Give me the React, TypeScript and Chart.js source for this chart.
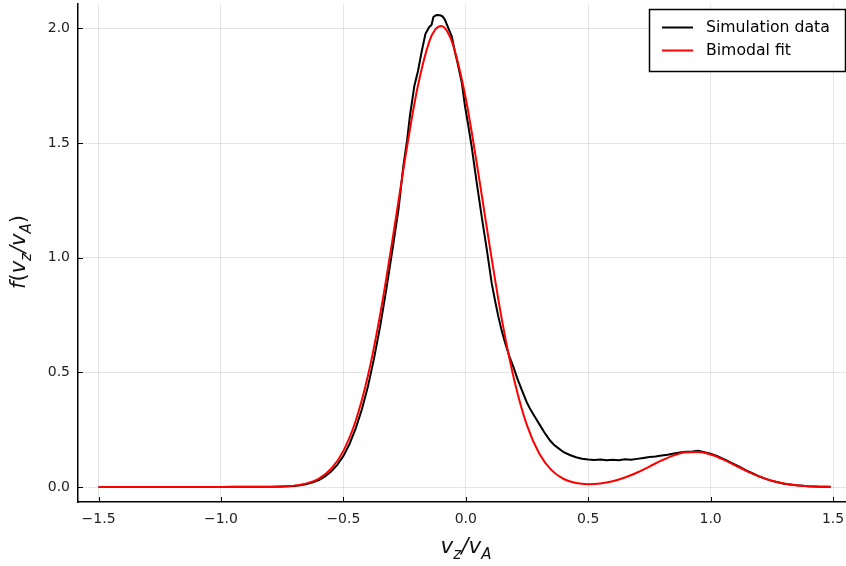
import React, { useEffect, useRef } from "react";
import { Chart, registerables } from "chart.js";
Chart.register(...registerables);

// ---- data ----
const seriesLabels = ["Simulation data", "Bimodal fit"];
const seriesColors = ["#000000", "#ff0000"];

const simX = [-1.5,-1.4,-1.3,-1.2,-1.1,-1.0,-0.95,-0.9,-0.85,-0.8,-0.75,-0.7,-0.675,-0.65,-0.625,-0.6,-0.575,-0.55,-0.525,-0.5,-0.475,-0.45,-0.425,-0.4,-0.375,-0.35,-0.325,-0.3,-0.275,-0.255,-0.24,-0.228,-0.21,-0.195,-0.18,-0.165,-0.15,-0.14,-0.132,-0.12,-0.105,-0.095,-0.085,-0.071,-0.057,-0.045,-0.035,-0.016,-0.003,0.011,0.024,0.035,0.045,0.065,0.086,0.106,0.12,0.133,0.147,0.161,0.178,0.194,0.21,0.229,0.249,0.263,0.28,0.304,0.32,0.344,0.36,0.375,0.4,0.425,0.45,0.475,0.5,0.525,0.55,0.575,0.6,0.625,0.65,0.675,0.7,0.725,0.75,0.775,0.8,0.825,0.85,0.875,0.9,0.925,0.95,0.975,1.0,1.025,1.05,1.075,1.1,1.125,1.15,1.175,1.2,1.225,1.25,1.275,1.3,1.35,1.4,1.45,1.49];
const simY = [0,0,0,0,0,0,0.001,0.001,0.001,0.002,0.003,0.005,0.008,0.013,0.021,0.031,0.047,0.068,0.097,0.136,0.188,0.255,0.337,0.437,0.560,0.700,0.860,1.032,1.210,1.40,1.51,1.62,1.75,1.815,1.90,1.975,2.005,2.015,2.050,2.058,2.057,2.052,2.037,2.000,1.964,1.900,1.855,1.761,1.659,1.571,1.484,1.400,1.324,1.179,1.034,0.888,0.810,0.743,0.680,0.627,0.570,0.525,0.475,0.423,0.370,0.340,0.310,0.268,0.240,0.203,0.185,0.172,0.152,0.140,0.130,0.124,0.120,0.118,0.120,0.117,0.119,0.117,0.121,0.119,0.123,0.127,0.131,0.133,0.138,0.141,0.146,0.151,0.154,0.155,0.158,0.152,0.145,0.136,0.124,0.111,0.098,0.085,0.070,0.058,0.046,0.036,0.027,0.021,0.015,0.008,0.004,0.002,0.001];

const fitX = [-1.5,-1.4,-1.3,-1.2,-1.1,-1.0,-0.9,-0.85,-0.8,-0.75,-0.7,-0.65,-0.6,-0.55,-0.5,-0.45,-0.4,-0.35,-0.3,-0.25,-0.2,-0.15,-0.125,-0.1,-0.075,-0.05,0,0.05,0.1,0.15,0.2,0.25,0.3,0.35,0.4,0.45,0.5,0.55,0.6,0.65,0.7,0.75,0.8,0.85,0.9,0.95,1.0,1.05,1.1,1.15,1.2,1.25,1.3,1.35,1.4,1.45,1.49];
const fitY = [0,0,0,0,0,0,0.0001,0.0003,0.0008,0.0023,0.0064,0.0161,0.0373,0.0799,0.158,0.288,0.484,0.751,1.074,1.418,1.727,1.940,1.994,2.010,1.985,1.921,1.694,1.377,1.034,0.715,0.457,0.269,0.1462,0.0738,0.0353,0.0177,0.0129,0.0159,0.0257,0.0416,0.0636,0.0896,0.1161,0.1384,0.1517,0.1530,0.1419,0.1211,0.0950,0.0686,0.0456,0.0278,0.0156,0.0081,0.0038,0.0017,0.0008];

const xTicks = [-1.5, -1.0, -0.5, 0, 0.5, 1.0, 1.5];
const xTickLabels = ["\u22121.5", "\u22121.0", "\u22120.5", "0.0", "0.5", "1.0", "1.5"];
const yTicks = [0, 0.5, 1.0, 1.5, 2.0];
const yTickLabels = ["0.0", "0.5", "1.0", "1.5", "2.0"];

// axis titles: [text, isSubscript, upright]
const xTitleParts: [string, boolean, boolean][] = [["v", false, false], ["z", true, false], ["/", false, false], ["v", false, false], ["A", true, false]];
const yTitleParts: [string, boolean, boolean][] = [["f", false, false], ["(", false, true], ["v", false, false], ["z", true, false], ["/", false, false], ["v", false, false], ["A", true, false], [")", false, true]];

const FAM = '"DejaVu Sans", sans-serif';

function drawMath(ctx: CanvasRenderingContext2D, parts: [string, boolean, boolean][], cx: number, baseY: number, size: number) {
  const subSize = Math.round(size * 0.72);
  const fontFor = (p: [string, boolean, boolean]) => `${p[2] ? "" : "italic "}${p[1] ? subSize : size}px ${FAM}`;
  let w = 0;
  parts.forEach((p) => { ctx.font = fontFor(p); w += ctx.measureText(p[0]).width; });
  let x = cx - w / 2;
  ctx.textAlign = "left";
  ctx.textBaseline = "alphabetic";
  parts.forEach((p) => {
    ctx.font = fontFor(p);
    ctx.fillText(p[0], x, baseY + (p[1] ? size * 0.28 : 0));
    x += ctx.measureText(p[0]).width;
  });
}

const decorPlugin = {
  id: "decor",
  afterDraw(chart: any) {
    const ctx: CanvasRenderingContext2D = chart.ctx;
    const xs = chart.scales.x;
    const ys = chart.scales.y;
    const a = chart.chartArea;
    ctx.save();
    // inward ticks
    ctx.strokeStyle = "#000";
    ctx.lineWidth = 1;
    ctx.beginPath();
    xTicks.forEach((v) => {
      const px = Math.round(xs.getPixelForValue(v)) + 0.5;
      ctx.moveTo(px, a.bottom);
      ctx.lineTo(px, a.bottom - 5);
    });
    yTicks.forEach((v) => {
      const py = Math.round(ys.getPixelForValue(v)) + 0.5;
      ctx.moveTo(a.left, py);
      ctx.lineTo(a.left + 5, py);
    });
    ctx.stroke();

    // legend
    const lx = 649.5, ly = 9.5, lw = 196, lh = 62;
    ctx.fillStyle = "#fff";
    ctx.fillRect(lx, ly, lw, lh);
    ctx.strokeStyle = "#000";
    ctx.lineWidth = 1.5;
    ctx.strokeRect(lx, ly, lw, lh);
    const rows = [27.5, 50.5];
    seriesLabels.forEach((lab, i) => {
      ctx.strokeStyle = seriesColors[i];
      ctx.lineWidth = 2;
      ctx.beginPath();
      ctx.moveTo(662, rows[i]);
      ctx.lineTo(693, rows[i]);
      ctx.stroke();
      ctx.fillStyle = "#000";
      ctx.font = `15.7px ${FAM}`;
      ctx.textAlign = "left";
      ctx.textBaseline = "middle";
      ctx.fillText(lab, 706, rows[i] + 0.5);
    });

    // axis titles
    ctx.fillStyle = "#111";
    drawMath(ctx, xTitleParts, 466, 553, 21.5);
    ctx.translate(25, 252);
    ctx.rotate(-Math.PI / 2);
    drawMath(ctx, yTitleParts, 0, 0, 21);
    ctx.restore();
  },
};

export default function App() {
  const ref = useRef<HTMLCanvasElement>(null);
  useEffect(() => {
    if (!ref.current) return;
    const chart = new Chart(ref.current, {
      type: "line",
      data: {
        datasets: [
          {
            label: seriesLabels[0],
            data: simX.map((x, i) => ({ x, y: simY[i] })),
            borderColor: seriesColors[0],
            borderWidth: 2,
            pointRadius: 0,
            tension: 0,
            order: 2,
          },
          {
            label: seriesLabels[1],
            data: fitX.map((x, i) => ({ x, y: fitY[i] })),
            borderColor: seriesColors[1],
            borderWidth: 2,
            pointRadius: 0,
            cubicInterpolationMode: "monotone",
            order: 1,
          },
        ],
      },
      options: {
        responsive: false,
        animation: false,
        devicePixelRatio: 1,
        layout: { padding: { top: 4, right: 0, left: 0, bottom: 0 } },
        plugins: { legend: { display: false }, tooltip: { enabled: false } },
        scales: {
          x: {
            type: "linear",
            min: -1.584,
            max: 1.553,
            afterBuildTicks: (s: any) => { s.ticks = xTicks.map((v) => ({ value: v })); },
            afterFit: (s: any) => { s.height = 64; s.paddingLeft = 0; s.paddingRight = 0; s.paddingTop = 0; s.paddingBottom = 0; },
            ticks: {
              autoSkip: false,
              maxRotation: 0,
              padding: 9,
              color: "#222",
              font: { family: FAM, size: 14 },
              callback: (v: any) => xTickLabels[xTicks.indexOf(Number(v))] ?? "",
            },
            grid: { color: "rgba(0,0,0,0.1)", drawTicks: false, lineWidth: 1 },
            border: { display: true, color: "#000", width: 1.5 },
          },
          y: {
            type: "linear",
            min: -0.065,
            max: 2.106,
            afterBuildTicks: (s: any) => { s.ticks = yTicks.map((v) => ({ value: v })); },
            afterFit: (s: any) => { s.width = 78; s.paddingLeft = 0; s.paddingRight = 0; s.paddingTop = 0; s.paddingBottom = 0; },
            ticks: {
              autoSkip: false,
              padding: 8,
              color: "#222",
              font: { family: FAM, size: 14 },
              callback: (v: any) => yTickLabels[yTicks.indexOf(Number(v))] ?? "",
            },
            grid: { color: "rgba(0,0,0,0.1)", drawTicks: false, lineWidth: 1 },
            border: { display: true, color: "#000", width: 1.5 },
          },
        },
      },
      plugins: [decorPlugin],
    } as any);
    return () => chart.destroy();
  }, []);
  return (
    <div style={{ position: "absolute", left: 0, top: 0, width: 846, height: 566, background: "#fff" }}>
      <canvas ref={ref} width={846} height={566} style={{ display: "block" }} />
    </div>
  );
}
